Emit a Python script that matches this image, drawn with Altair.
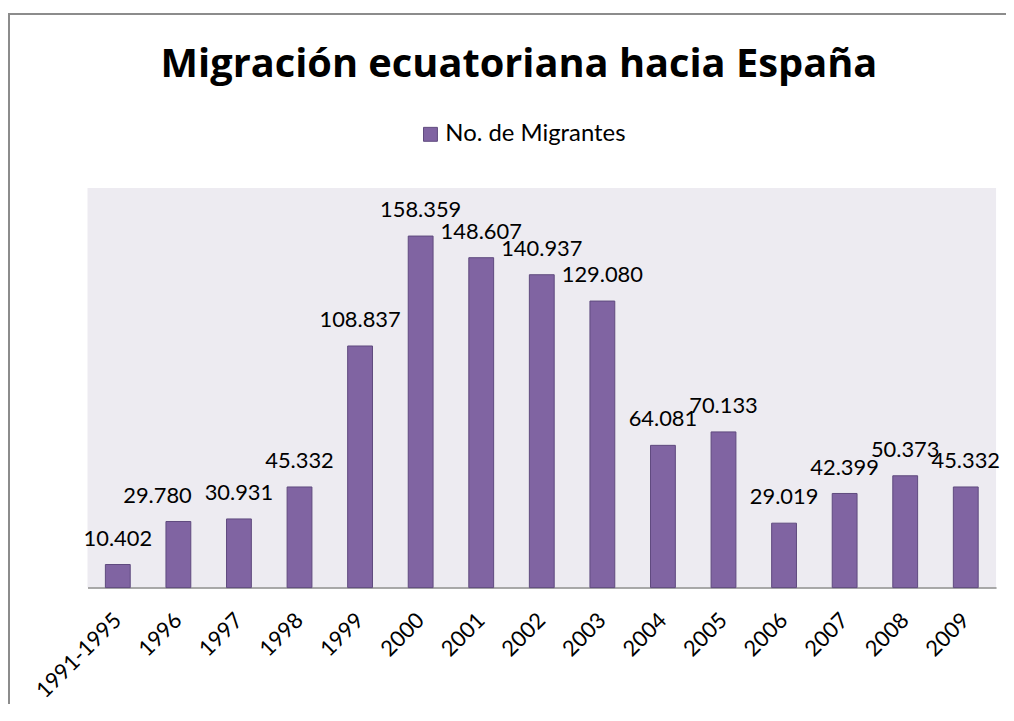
import altair as alt
import pandas as pd

categorias = ["1991-1995", "1996", "1997", "1998", "1999", "2000", "2001", "2002",
              "2003", "2004", "2005", "2006", "2007", "2008", "2009"]
migrantes = [10402, 29780, 30931, 45332, 108837, 158359, 148607, 140937,
             129080, 64081, 70133, 29019, 42399, 50373, 45332]
serie = "No. de Migrantes"

df = pd.DataFrame({"periodo": categorias, "valor": migrantes, "serie": [serie] * len(categorias)})

FONT = "Lato"
PURPLE = "#8064A2"
STROKE = "#5F4A7E"

x_enc = alt.X("periodo:N", sort=categorias, title=None,
              scale=alt.Scale(paddingInner=0.59, paddingOuter=0.295),
              axis=alt.Axis(labelAngle=-45, labelAlign="right", labelBaseline="middle",
                            labelFont=FONT, labelFontSize=22, labelColor="black",
                            labelPadding=29, ticks=False, domainColor="#8C8C8C",
                            domainWidth=1.5, grid=False))
y_enc = alt.Y("valor:Q", title=None, scale=alt.Scale(domain=[0, 180000], nice=False),
              axis=None)

base = alt.Chart(df)

bars = base.mark_bar(stroke=STROKE, strokeWidth=1).encode(
    x=x_enc, y=y_enc,
    color=alt.Color("serie:N", scale=alt.Scale(domain=[serie], range=[PURPLE]),
                    legend=alt.Legend(title=None, orient="none", legendX=333, legendY=-66,
                                      symbolType="square", symbolSize=196,
                                      symbolStrokeColor=STROKE, symbolStrokeWidth=1,
                                      labelFont=FONT, labelFontSize=24, labelColor="black",
                                      labelOffset=3, labelLimit=400, padding=0))
)

label_base = base.transform_calculate(
    etiqueta="replace(format(datum.valor, ','), ',', '.')"
)
label_enc = dict(x=alt.X("periodo:N", sort=categorias), y="valor:Q", text="etiqueta:N")

labels = label_base.transform_filter(alt.datum.periodo != "1996").mark_text(
    font=FONT, fontSize=22, color="black", baseline="alphabetic", dy=-19
).encode(**label_enc)

# Excel nudged this one label left to avoid its neighbour
label_1996 = label_base.transform_filter(alt.datum.periodo == "1996").mark_text(
    font=FONT, fontSize=22, color="black", baseline="alphabetic", dy=-19, dx=-21
).encode(**label_enc)

border_left = alt.Chart(df).mark_rule(color="#8C8C8C", strokeWidth=1.5).encode(
    x=alt.value(-79), y=alt.value(-175), y2=alt.value(560)
)
border_top = alt.Chart(df).mark_rule(color="#8C8C8C", strokeWidth=1.5).encode(
    x=alt.value(-80), x2=alt.value(935), y=alt.value(-175)
)

chart = alt.layer(bars, labels, label_1996, border_left, border_top).properties(
    width=914, height=402,
    autosize=alt.AutoSizeParams(type="none"),
    padding={"left": 80, "top": 179, "right": 10, "bottom": 115},
    title=alt.TitleParams("Migración ecuatoriana hacia España", font="Open Sans", fontSize=40,
                          fontWeight="bold", color="black", anchor="middle", frame="group",
                          baseline="alphabetic", dx=-23, dy=104, offset=0),
    background="white",
).configure_view(fill="#EDEBF1", stroke=None)

chart.save("out.html", embed_options={"renderer": "svg", "actions": False})
